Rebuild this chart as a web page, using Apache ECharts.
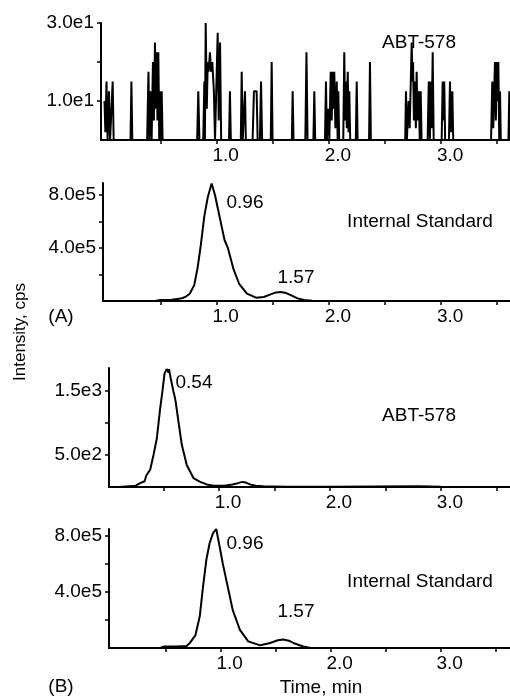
<!DOCTYPE html>
<html><head><meta charset="utf-8">
<script src="https://cdn.jsdelivr.net/npm/echarts@6/dist/echarts.min.js"></script>
<style>html,body{margin:0;padding:0;background:#fff}#c{width:510px;height:697px}</style>
</head><body><div id="c"></div>
<script>
// Panel 1 (A) ABT-578 noise trace
const abtA_t = [0.000,0.008,0.018,0.028,0.040,0.050,0.066,0.073,0.082,
 0.232,0.240,0.248,
 0.380,0.392,0.400,0.410,0.420,0.432,0.440,0.450,0.458,0.465,0.472,0.480,0.488,0.494,0.500,0.510,0.518,
 0.826,0.836,0.846,
 0.880,0.890,0.895,0.902,0.912,0.920,0.928,0.940,0.950,0.961,0.975,0.985,0.995,1.009,1.018,1.030,1.040,
 1.110,1.118,1.126,
 1.215,1.223,1.232,1.245,1.252,1.260,
 1.320,1.332,1.345,1.356,1.365,1.385,1.395,1.405,
 1.482,1.490,1.498,
 1.670,1.677,1.685,
 1.790,1.800,1.810,1.862,1.870,1.878,
 1.965,1.974,1.982,1.995,2.004,2.016,2.025,2.034,2.040,2.048,2.058,2.070,2.078,2.084,2.092,
 2.128,2.137,2.145,2.152,2.160,2.168,2.175,2.182,2.190,
 2.240,2.248,2.256,
 2.358,2.366,2.374,
 2.680,2.687,2.695,2.710,2.720,2.738,2.744,2.750,2.758,2.767,2.775,2.782,2.790,2.800,2.810,2.818,2.826,
 2.880,2.890,2.900,2.908,2.916,2.925,2.934,
 3.005,3.014,3.020,3.028,3.036,3.070,3.079,3.088,3.100,3.108,
 3.445,3.456,3.465,3.480,3.488,3.496,3.503,3.510,3.518,3.525,3.532,
 3.600,3.608,3.614];
const abtA_v = [10,2,15,0,12.5,0,0,15,0,
 0,15,0,
 0,17.5,0,12.5,0,20,5,25,8,22.5,5,22.5,0,12.5,0,12.5,0,
 0,12.5,0,
 0,15,0,30,8,20,17.5,22.5,17.5,20,12.5,0,0,27.5,5,25,0,
 0,12.5,0,
 0,17.5,0,0,12.5,0,
 0,12.5,12.5,12.5,0,0,15,0,
 0,20,0,
 0,12.5,0,
 0,22.5,0,0,12.5,0,
 0,15,0,8,0,17.5,5,17.5,8,17.5,3,15,0,12.5,0,
 0,22.5,5,15,3,17.5,2,12.5,0,
 0,15,0,
 0,20,0,
 0,12.5,0,10,3,25,15,20,5,15,3,17.5,5,12.5,0,12.5,0,
 0,15,0,15,3,22.5,0,
 0,15,5,15,0,0,15,2,12.5,0,
 0,15,3,20,5,20,10,20,0,12.5,0,
 0,12.5,0];

// Panel 2 (A) Internal Standard
const isA_t = [0.00,0.45,0.50,0.60,0.68,0.72,0.76,0.80,0.83,0.86,0.89,0.92,0.955,0.985,1.01,1.04,1.07,1.10,1.15,1.20,1.27,1.35,1.42,1.48,1.53,1.57,1.62,1.67,1.72,1.78,1.85,2.00,3.62];
const isA_v = [0,0,8000,10000,18000,30000,55000,120000,250000,430000,640000,780000,886000,800000,700000,580000,460000,400000,240000,130000,55000,25000,30000,50000,65000,68000,60000,40000,20000,8000,2000,0,0];

// Panel 3 (B) ABT-578
const abtB_t = [0.00,0.10,0.25,0.29,0.33,0.345,0.36,0.38,0.41,0.44,0.47,0.49,0.51,0.525,0.53,0.545,0.55,0.565,0.59,0.60,0.61,0.635,0.665,0.71,0.77,0.83,0.89,0.95,1.05,1.12,1.17,1.21,1.24,1.28,1.33,1.40,1.60,2.00,2.80,3.00,3.62];
const abtB_v = [0,0,20,60,90,180,220,270,500,760,1230,1490,1780,1800,1843,1790,1840,1700,1490,1420,1330,1020,660,340,140,80,40,20,20,40,60,80,70,40,20,10,5,5,10,5,0];

// Panel 4 (B) Internal Standard
const isB_t = [0.00,0.45,0.48,0.60,0.69,0.72,0.77,0.81,0.84,0.87,0.90,0.93,0.96,0.99,1.02,1.05,1.08,1.11,1.175,1.25,1.36,1.45,1.52,1.57,1.62,1.66,1.75,1.82,3.63];
const isB_v = [0,0,10000,11000,15000,36000,90000,226000,440000,630000,750000,820000,850000,726000,600000,490000,380000,270000,130000,47000,19000,36000,55000,60000,52000,36000,11000,0,0];

// Tick values
const xTicks = [0.5,1.0,1.5,2.0,2.5,3.0,3.5];
const xLabels = [1.0,2.0,3.0];
const y1Ticks = [10,20,30], y1Labels = [10,30];
const y2Ticks = [200000,400000,600000,800000], y2Labels = [400000,800000];
const y3Ticks = [500,1000,1500], y3Labels = [500,1500];
const y4Ticks = [200000,400000,600000,800000], y4Labels = [400000,800000];

const FONT = 'Liberation Sans, Arial, sans-serif';
const zip = (t, v) => t.map((x, i) => [x, v[i]]);
const fmtE = v => v.toExponential(1).replace('e+', 'e');

const grids = [
  {left:101, top:23, width:409, height:117},
  {left:103, top:183, width:407, height:118},
  {left:109, top:368, width:401, height:119},
  {left:109, top:529, width:401, height:119}
];
const xr = [[-0.031,3.614],[-0.013,3.614],[0.009,3.622],[-0.015,3.63]];
const yr = [[0,30],[0,890000],[0,1860],[0,850000]];
const yT = [y1Ticks,y2Ticks,y3Ticks,y4Ticks];
const yL = [y1Labels,y2Labels,y3Labels,y4Labels];

const axisLine = {show:true, onZero:false, lineStyle:{color:'#000', width:2}};
const xAxis = grids.map((g,i)=>({
  type:'value', gridIndex:i, min:xr[i][0], max:xr[i][1],
  axisLine, splitLine:{show:false},
  axisTick:{show:true, customValues:xTicks, length:4, lineStyle:{color:'#000', width:1.5}},
  axisLabel:{show:true, customValues:xLabels, formatter:v=>v.toFixed(1), margin:6,
    fontSize:19, color:'#000', fontFamily:FONT, padding:[0,0,0,18]}
}));
const yAxis = grids.map((g,i)=>({
  type:'value', gridIndex:i, min:yr[i][0], max:yr[i][1],
  axisLine, splitLine:{show:false},
  axisTick:{show:true, customValues:yT[i], length:4, lineStyle:{color:'#000', width:1.5}},
  axisLabel:{show:true, customValues:yL[i], formatter:fmtE, margin:7,
    fontSize:19, color:'#000', fontFamily:FONT}
}));
const series = [zip(abtA_t,abtA_v), zip(isA_t,isA_v), zip(abtB_t,abtB_v), zip(isB_t,isB_v)].map((d,i)=>({
  type:'line', xAxisIndex:i, yAxisIndex:i, data:d, symbol:'none', showSymbol:false,
  lineStyle:{color:'#000', width:2}, clip:true
}));

const txt = (s, x, y, size, rot) => ({
  type:'text', x, y, rotation: rot || 0,
  style:{text:s, font: (size||19) + 'px ' + FONT, fill:'#000', textAlign:'center', textVerticalAlign:'middle'}
});
const graphic = [
  txt('ABT-578', 419, 43),
  txt('0.96', 245, 203), txt('Internal Standard', 420, 222), txt('1.57', 296, 278),
  txt('(A)', 61, 317),
  txt('0.54', 194, 383), txt('ABT-578', 419, 416),
  txt('0.96', 245, 544), txt('Internal Standard', 420, 582), txt('1.57', 296, 612),
  txt('(B)', 61, 687),
  txt('Time, min', 321, 688),
  txt('Intensity, cps', 20, 332, 17, Math.PI/2)
];

const chart = echarts.init(document.getElementById('c'), null, {renderer:'canvas'});
chart.setOption({animation:false, grid:grids, xAxis, yAxis, series, graphic});
</script></body></html>
